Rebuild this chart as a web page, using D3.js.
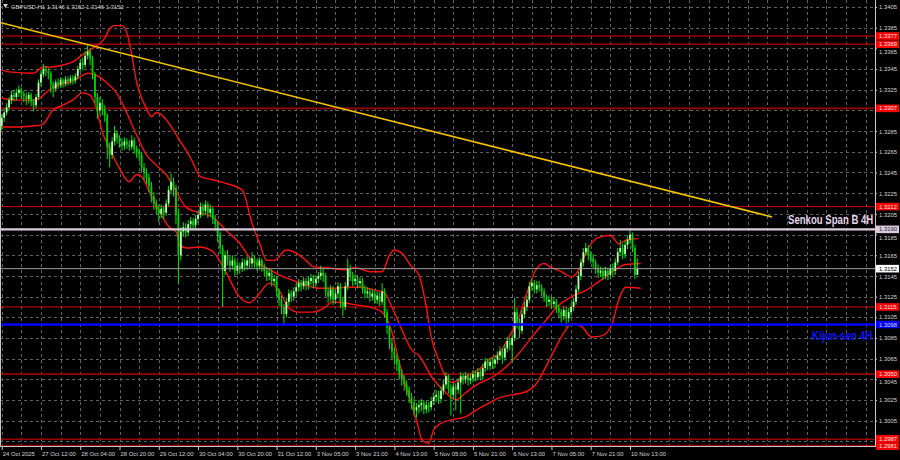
<!DOCTYPE html>
<html><head><meta charset="utf-8">
<script src="https://cdn.jsdelivr.net/npm/d3@7"></script>
<style>html,body{margin:0;padding:0;background:#000;}svg{display:block;}</style>
</head><body><svg id="c" width="900" height="460"></svg>
<script>
// ---------- DATA ----------
const symbolTitle = "GBPUSD,H1  1.3146 1.3162 1.3146 1.3152";
const firstOpen = 1.3290;
const closes = [
1.3298,1.3303,1.3308,1.3315,1.3320,1.3318,1.3322,1.3325,1.3321,1.3319,
1.3316,1.3320,1.3314,1.3310,1.3318,1.3332,1.3340,1.3345,1.3343,1.3341,
1.3330,1.3326,1.3332,1.3330,1.3334,1.3331,1.3335,1.3333,1.3336,1.3334,
1.3338,1.3345,1.3351,1.3349,1.3358,1.3362,1.3355,1.3340,1.3318,1.3305,
1.3312,1.3306,1.3300,1.3270,1.3262,1.3275,1.3283,1.3278,1.3274,1.3271,
1.3275,1.3272,1.3270,1.3276,1.3268,1.3264,1.3262,1.3250,1.3245,1.3240,
1.3232,1.3222,1.3215,1.3210,1.3205,1.3210,1.3206,1.3215,1.3228,1.3236,
1.3230,1.3205,1.3165,1.3188,1.3192,1.3187,1.3195,1.3198,1.3194,1.3200,
1.3204,1.3212,1.3208,1.3214,1.3206,1.3210,1.3200,1.3195,1.3185,1.3172,
1.3150,1.3165,1.3160,1.3155,1.3160,1.3150,1.3155,1.3152,1.3158,1.3155,
1.3160,1.3157,1.3162,1.3158,1.3155,1.3160,1.3154,1.3150,1.3145,1.3148,
1.3140,1.3142,1.3130,1.3122,1.3115,1.3108,1.3120,1.3128,1.3125,1.3130,
1.3134,1.3138,1.3135,1.3140,1.3136,1.3140,1.3143,1.3138,1.3142,1.3145,
1.3148,1.3145,1.3130,1.3125,1.3132,1.3122,1.3128,1.3135,1.3120,1.3115,
1.3135,1.3152,1.3145,1.3140,1.3142,1.3138,1.3140,1.3132,1.3128,1.3130,
1.3125,1.3128,1.3122,1.3126,1.3120,1.3130,1.3110,1.3095,1.3080,1.3072,
1.3065,1.3060,1.3050,1.3045,1.3040,1.3035,1.3028,1.3022,1.3015,1.3018,
1.3020,1.3022,1.3016,1.3020,1.3018,1.3024,1.3028,1.3030,1.3026,1.3034,
1.3040,1.3048,1.3036,1.3030,1.3038,1.3035,1.3042,1.3048,1.3045,1.3048,
1.3044,1.3046,1.3050,1.3047,1.3052,1.3048,1.3056,1.3062,1.3058,1.3062,
1.3060,1.3064,1.3068,1.3072,1.3066,1.3075,1.3082,1.3078,1.3085,1.3110,
1.3100,1.3092,1.3108,1.3115,1.3122,1.3135,1.3138,1.3132,1.3136,1.3134,
1.3130,1.3124,1.3120,1.3122,1.3118,1.3120,1.3114,1.3110,1.3106,1.3112,
1.3104,1.3110,1.3115,1.3120,1.3132,1.3145,1.3158,1.3168,1.3172,1.3165,
1.3162,1.3158,1.3152,1.3148,1.3150,1.3145,1.3150,1.3146,1.3152,1.3150,
1.3158,1.3168,1.3172,1.3166,1.3175,1.3180,1.3185,1.3172,1.3146,1.3152];
const highs = [
1.3301,1.3307,1.3312,1.3318,1.3324,1.3325,1.3326,1.3329,1.3327,1.3324,
1.3322,1.3323,1.3322,1.3316,1.3321,1.3335,1.3344,1.3350,1.3348,1.3346,
1.3343,1.3333,1.3335,1.3336,1.3337,1.3336,1.3338,1.3338,1.3339,1.3339,
1.3341,1.3348,1.3355,1.3356,1.3362,1.3368,1.3365,1.3358,1.3342,1.3322,
1.3318,1.3316,1.3310,1.3302,1.3274,1.3279,1.3290,1.3286,1.3281,1.3278,
1.3279,1.3278,1.3276,1.3281,1.3279,1.3271,1.3268,1.3265,1.3254,1.3249,
1.3244,1.3236,1.3226,1.3219,1.3214,1.3214,1.3213,1.3219,1.3232,1.3244,
1.3240,1.3233,1.3210,1.3192,1.3197,1.3196,1.3199,1.3202,1.3201,1.3204,
1.3208,1.3216,1.3215,1.3218,1.3217,1.3214,1.3212,1.3204,1.3198,1.3188,
1.3175,1.3169,1.3170,1.3164,1.3165,1.3163,1.3159,1.3158,1.3162,1.3161,
1.3164,1.3163,1.3168,1.3165,1.3161,1.3163,1.3162,1.3157,1.3153,1.3152,
1.3151,1.3146,1.3145,1.3133,1.3126,1.3118,1.3124,1.3132,1.3131,1.3134,
1.3138,1.3142,1.3141,1.3144,1.3143,1.3144,1.3147,1.3146,1.3146,1.3149,
1.3155,1.3152,1.3148,1.3134,1.3136,1.3135,1.3132,1.3139,1.3138,1.3124,
1.3139,1.3162,1.3156,1.3149,1.3147,1.3146,1.3144,1.3143,1.3136,1.3134,
1.3133,1.3132,1.3131,1.3130,1.3129,1.3138,1.3133,1.3113,1.3098,1.3084,
1.3076,1.3069,1.3064,1.3055,1.3049,1.3044,1.3038,1.3032,1.3026,1.3022,
1.3025,1.3026,1.3025,1.3024,1.3023,1.3028,1.3032,1.3035,1.3034,1.3038,
1.3045,1.3052,1.3050,1.3040,1.3042,1.3041,1.3046,1.3052,1.3051,1.3052,
1.3051,1.3050,1.3054,1.3053,1.3056,1.3055,1.3060,1.3066,1.3065,1.3066,
1.3066,1.3068,1.3072,1.3077,1.3075,1.3079,1.3086,1.3085,1.3089,1.3124,
1.3114,1.3104,1.3112,1.3120,1.3126,1.3139,1.3142,1.3141,1.3140,1.3140,
1.3137,1.3133,1.3127,1.3126,1.3125,1.3124,1.3123,1.3117,1.3113,1.3116,
1.3115,1.3114,1.3119,1.3124,1.3136,1.3149,1.3162,1.3172,1.3177,1.3175,
1.3169,1.3166,1.3161,1.3156,1.3154,1.3153,1.3154,1.3153,1.3156,1.3157,
1.3162,1.3172,1.3180,1.3176,1.3179,1.3184,1.3189,1.3187,1.3175,1.3162];
const lows = [
1.3286,1.3294,1.3300,1.3305,1.3311,1.3314,1.3315,1.3318,1.3316,1.3313,
1.3310,1.3312,1.3309,1.3304,1.3307,1.3315,1.3328,1.3337,1.3338,1.3335,
1.3322,1.3318,1.3323,1.3326,1.3327,1.3327,1.3328,1.3329,1.3330,1.3330,
1.3331,1.3335,1.3342,1.3344,1.3346,1.3354,1.3349,1.3335,1.3312,1.3297,
1.3301,1.3300,1.3294,1.3258,1.3250,1.3258,1.3271,1.3273,1.3269,1.3266,
1.3267,1.3268,1.3266,1.3267,1.3263,1.3259,1.3256,1.3245,1.3238,1.3234,
1.3226,1.3216,1.3209,1.3204,1.3197,1.3201,1.3200,1.3203,1.3212,1.3224,
1.3222,1.3195,1.3138,1.3160,1.3183,1.3182,1.3184,1.3190,1.3189,1.3190,
1.3196,1.3201,1.3203,1.3204,1.3201,1.3202,1.3195,1.3189,1.3178,1.3166,
1.3115,1.3146,1.3155,1.3149,1.3151,1.3145,1.3146,1.3147,1.3149,1.3150,
1.3151,1.3152,1.3153,1.3153,1.3150,1.3151,1.3149,1.3145,1.3140,1.3141,
1.3135,1.3136,1.3125,1.3116,1.3108,1.3097,1.3105,1.3116,1.3120,1.3121,
1.3126,1.3130,1.3130,1.3132,1.3131,1.3132,1.3136,1.3133,1.3134,1.3138,
1.3141,1.3139,1.3125,1.3119,1.3121,1.3117,1.3118,1.3124,1.3114,1.3106,
1.3112,1.3131,1.3140,1.3135,1.3136,1.3133,1.3134,1.3128,1.3123,1.3124,
1.3120,1.3121,1.3118,1.3118,1.3116,1.3117,1.3105,1.3089,1.3074,1.3065,
1.3059,1.3053,1.3045,1.3039,1.3034,1.3029,1.3022,1.3016,1.3010,1.3008,
1.3012,1.3014,1.3011,1.3012,1.3013,1.3015,1.3020,1.3023,1.3021,1.3022,
1.3030,1.3036,1.3031,1.3010,1.3026,1.3015,1.3031,1.3012,1.3040,1.3041,
1.3039,1.3040,1.3042,1.3043,1.3044,1.3044,1.3045,1.3052,1.3054,1.3054,
1.3055,1.3056,1.3060,1.3064,1.3060,1.3063,1.3071,1.3073,1.3062,1.3082,
1.3094,1.3085,1.3089,1.3104,1.3111,1.3119,1.3131,1.3128,1.3128,1.3130,
1.3125,1.3120,1.3115,1.3116,1.3113,1.3114,1.3109,1.3104,1.3100,1.3102,
1.3095,1.3100,1.3106,1.3111,1.3117,1.3129,1.3141,1.3154,1.3164,1.3160,
1.3157,1.3153,1.3147,1.3143,1.3144,1.3141,1.3142,1.3141,1.3142,1.3145,
1.3146,1.3155,1.3164,1.3161,1.3162,1.3171,1.3176,1.3168,1.3142,1.3146];

// Bollinger-style bands (bar index, price)
const upIdx = [0,4,13,17,21,25,29,33,37,40,42,44,46,49,51,53,55,57,59,61,63,65,68,72,77,81,86,92,98,102,105,108,111,116,120,124,127,132,140,144,150,155,158,160,163,167,170,173,175,178,181,183.5,187.5,191.6,195.7,198.5,202.6,206.7,210.7,214.8,217.7,220.9,224,228.2,232.3,235.2,238,240.5,244.2,248.2,251.4,254.7,259.4];
const upVal = [1.3344,1.3342,1.3341,1.3347,1.3347,1.3349,1.3352,1.3359,1.3365,1.3370,1.3375,1.3384,1.3387,1.3387,1.3380,1.3359,1.3332,1.3317,1.3307,1.3299,1.3303,1.3301,1.3293,1.3278,1.3259,1.3241,1.3238,1.3234,1.3228,1.3196,1.3177,1.3160,1.3160,1.3170,1.3167,1.3160,1.3154,1.3153,1.3151,1.3153,1.3149,1.3149,1.3165,1.3170,1.3167,1.3154,1.3146,1.3115,1.3086,1.3064,1.3047,1.3042,1.3046,1.3051,1.3057,1.3064,1.3070,1.3086,1.3105,1.3134,1.3151,1.3157,1.3153,1.3149,1.3144,1.3151,1.3167,1.3177,1.3183,1.3184,1.3176,1.3180,1.3181];
const midIdx = [0,6,13,15.5,19.5,23.6,27.7,31.7,35,38.6,42.7,46.8,50.9,55,59,63,67,71.2,75.3,80.6,85.8,91.5,96.8,102,107.8,113,118.4,124,129.4,134.7,140.4,145.6,152.6,155.8,159,163,167.2,170,175.3,181,185,189,194.5,199.8,205.5,210.7,216,221.7,225.8,232.3,238,243,248.6,254.3,260.4];
const midVal = [1.3317,1.3315,1.3315,1.3317,1.3325,1.3330,1.3332,1.3337,1.3341,1.3339,1.3332,1.3322,1.3303,1.3281,1.3262,1.3252,1.3243,1.3226,1.3211,1.3206,1.3202,1.3189,1.3177,1.3160,1.3153,1.3146,1.3141,1.3136,1.3133,1.3133,1.3134,1.3134,1.3131,1.3129,1.3115,1.3093,1.3073,1.3068,1.3047,1.3032,1.3025,1.3032,1.3041,1.3047,1.3057,1.3070,1.3086,1.3102,1.3114,1.3125,1.3131,1.3139,1.3149,1.3156,1.3157];
const lowIdx = [0,6,12.6,16.3,18.3,20.7,24.8,28.9,33,35.8,38.6,41,43.9,48,52,55,57.4,60.2,64.3,68.3,71.2,72.4,75.3,80.6,85.8,91.5,96.8,101,105,109,113,117,121,126.5,132,134.7,138.7,144.4,149.7,155,158.7,162,166,169.3,171.3,174,176,179.4,183.5,189.2,193.2,198.5,202.6,207.9,213.6,217.6,221.7,225.8,229.9,232.3,236.3,240.4,244.5,248.6,251.4,254.3,260.4];
const lowVal = [1.3289,1.3289,1.3290,1.3291,1.3296,1.3305,1.3310,1.3315,1.3322,1.3320,1.3307,1.3284,1.3269,1.3249,1.3236,1.3243,1.3240,1.3226,1.3207,1.3192,1.3187,1.3175,1.3172,1.3173,1.3169,1.3148,1.3125,1.3119,1.3128,1.3138,1.3131,1.3114,1.3110,1.3110,1.3115,1.3120,1.3119,1.3117,1.3115,1.3110,1.3093,1.3061,1.3028,1.3003,1.2986,1.2983,1.2996,1.3003,1.3006,1.3009,1.3015,1.3022,1.3027,1.3030,1.3033,1.3040,1.3057,1.3076,1.3093,1.3099,1.3096,1.3086,1.3087,1.3098,1.3122,1.3134,1.3133];

const trendBars = [-0.7, 313.9];
const trendPrices = [1.3390, 1.3202];

const levelPrices = [1.3377, 1.3369, 1.3307, 1.3212, 1.3115, 1.3050, 1.2987, 1.2981];
const levelThin   = [false, false, false, true, true, false, false, false];
const senkouB = 1.3190;
const kijun = 1.3098;
const lastPrice = 1.3152;

const priceTicks = [1.3405,1.3385,1.3365,1.3345,1.3325,1.3305,1.3285,1.3265,1.3245,1.3225,1.3205,1.3185,1.3165,1.3145,1.3125,1.3105,1.3085,1.3065,1.3045,1.3025,1.3005,1.2985];
const timeLabels = ["24 Oct 2025","27 Oct 12:00","28 Oct 04:00","28 Oct 20:00","29 Oct 12:00","30 Oct 04:00","30 Oct 20:00","31 Oct 12:00","3 Nov 05:00","3 Nov 21:00","4 Nov 13:00","5 Nov 05:00","5 Nov 21:00","6 Nov 13:00","7 Nov 05:00","7 Nov 21:00","10 Nov 13:00"];
const timeLabelBars = [0,16,32,48,64,80,96,112,128,144,160,176,192,208,224,240,256];
const gridBars = [0,8,16,24,32,40,48,56,64,72,80,88,96,104,112,120,128,136,144,152,160,168,176,184,192,200,208,216,224,232,240,248,256,264,272,280,288,296,304,312,320,328,336,344,352];

// ---------- DRAW ----------
const W = 900, H = 460, plotR = 875, plotB = 446;
const svg = d3.select('#c');
const x = d3.scaleLinear().domain([0, 256]).range([1.7, 630]);
const y = d3.scaleLinear().domain([1.3005, 1.3405]).range([420.7, 7]);
const font = "'Liberation Sans', Arial, sans-serif";
const fs = 5.9;

svg.append('rect').attr('width', W).attr('height', H).attr('fill', '#000');
svg.append('clipPath').attr('id', 'pc').append('rect')
  .attr('x', 0).attr('y', 0).attr('width', plotR).attr('height', plotB);
const g = svg.append('g').attr('clip-path', 'url(#pc)');

// grid
g.selectAll('.hg').data(priceTicks).join('line').attr('class', 'hg')
  .attr('x1', 0).attr('x2', plotR)
  .attr('y1', d => Math.round(y(d)) + 0.5).attr('y2', d => Math.round(y(d)) + 0.5)
  .attr('stroke', '#606060').attr('stroke-width', 1).attr('stroke-dasharray', '3,3');
g.selectAll('.vg').data(gridBars).join('line').attr('class', 'vg')
  .attr('x1', d => Math.round(x(d)) + 0.5).attr('x2', d => Math.round(x(d)) + 0.5)
  .attr('y1', 0).attr('y2', plotB)
  .attr('stroke', '#606060').attr('stroke-width', 1).attr('stroke-dasharray', '3,3');

// level lines
g.selectAll('.lv').data(levelPrices).join('line').attr('class', 'lv')
  .attr('x1', 0).attr('x2', plotR)
  .attr('y1', d => y(d)).attr('y2', d => y(d))
  .attr('stroke', (d, i) => levelThin[i] ? '#d80000' : '#9a0000')
  .attr('stroke-width', (d, i) => levelThin[i] ? 1 : 1.6);

// bands
const bandLine = d3.line().x(d => x(d[0])).y(d => y(d[1])).curve(d3.curveMonotoneX);
[[upIdx, upVal], [midIdx, midVal], [lowIdx, lowVal]].forEach(([ix, vv]) => {
  g.append('path').datum(ix.map((v, i) => [v, vv[i]]))
    .attr('d', bandLine).attr('fill', 'none')
    .attr('stroke', '#ff1010').attr('stroke-width', 1.4);
});

// candles
const bars = closes.map((c, i) => ({
  i, o: i === 0 ? firstOpen : closes[i - 1], c, h: highs[i], l: lows[i]
}));
const cg = g.append('g');
cg.selectAll('.wk').data(bars).join('line').attr('class', 'wk')
  .attr('x1', d => x(d.i)).attr('x2', d => x(d.i))
  .attr('y1', d => y(d.h)).attr('y2', d => y(d.l))
  .attr('stroke', '#00e600').attr('stroke-width', 1);
cg.selectAll('.bd').data(bars).join('rect').attr('class', 'bd')
  .attr('x', d => x(d.i) - 0.9).attr('width', 1.8)
  .attr('y', d => y(Math.max(d.o, d.c)))
  .attr('height', d => Math.max(0.8, Math.abs(y(d.o) - y(d.c))))
  .attr('fill', d => d.c >= d.o ? '#b8ffb0' : '#00d000');

// trend line
g.append('line')
  .attr('x1', x(trendBars[0])).attr('y1', y(trendPrices[0]))
  .attr('x2', x(trendBars[1])).attr('y2', y(trendPrices[1]))
  .attr('stroke', '#f5c400').attr('stroke-width', 1.6);

// ichimoku / price lines
g.append('line').attr('x1', 0).attr('x2', plotR).attr('y1', y(lastPrice)).attr('y2', y(lastPrice))
  .attr('stroke', '#a0a0a0').attr('stroke-width', 1);
g.append('line').attr('x1', 0).attr('x2', plotR).attr('y1', y(senkouB)).attr('y2', y(senkouB))
  .attr('stroke', '#dccbdc').attr('stroke-width', 2.2);
g.append('line').attr('x1', 0).attr('x2', plotR).attr('y1', y(kijun)).attr('y2', y(kijun))
  .attr('stroke', '#0000ff').attr('stroke-width', 2.6);

// text labels for lines (narrow, tall look: small font stretched vertically)
svg.append('g').attr('transform', `translate(788,${y(senkouB) - 5}) scale(1,1.3)`)
  .append('text').attr('x', 0).attr('y', 0)
  .attr('font-family', font).attr('font-weight', 'bold').attr('font-size', 9.6).attr('fill', '#e4d6ea')
  .text('Senkou Span B 4H');
svg.append('g').attr('transform', `translate(812,${y(kijun) + 15}) scale(1,1.3)`)
  .append('text').attr('x', 0).attr('y', 0)
  .attr('font-family', font).attr('font-weight', 'bold').attr('font-size', 9.9).attr('fill', '#0a14ff')
  .text('Kijun-sen 4H');

// frame
svg.append('line').attr('x1', plotR + 0.5).attr('x2', plotR + 0.5).attr('y1', 0).attr('y2', plotB + 1)
  .attr('stroke', '#c8c8c8').attr('stroke-width', 1);
svg.append('line').attr('x1', 0).attr('x2', plotR + 1).attr('y1', plotB + 0.5).attr('y2', plotB + 0.5)
  .attr('stroke', '#c8c8c8').attr('stroke-width', 1);
svg.append('line').attr('x1', 0.5).attr('x2', 0.5).attr('y1', 0).attr('y2', plotB)
  .attr('stroke', '#c8c8c8').attr('stroke-width', 1);

// highlighted price boxes (positions), with small nudges so texts do not collide
const boxes = levelPrices.map(p => ({p, bg: '#ff0000', fg: '#ffe8e8'}))
  .concat([{p: senkouB, bg: '#dccbe0', fg: '#222'}, {p: lastPrice, bg: '#ffffff', fg: '#000'}, {p: kijun, bg: '#0000ff', fg: '#d8d8ff'}]);
boxes.forEach(b => b.yy = y(b.p));
boxes.sort((a, b) => a.yy - b.yy);
for (let k = 1; k < boxes.length; k++) {
  const gap = boxes[k].yy - boxes[k - 1].yy;
  if (gap < 7.4) { const s = (7.4 - gap) / 2; boxes[k - 1].yy -= s; boxes[k].yy += s; }
}

// right axis
const ra = svg.append('g').attr('transform', `translate(${plotR},0)`)
  .call(d3.axisRight(y).tickValues(priceTicks).tickFormat(d3.format('.4f')).tickSize(2).tickPadding(2));
ra.select('.domain').remove();
ra.selectAll('line').attr('stroke', '#c8c8c8');
ra.selectAll('text').attr('font-family', font).attr('font-size', fs).attr('fill', '#d4d4d4');
ra.selectAll('.tick').each(function(d) {
  const ty = y(d);
  let near = null;
  boxes.forEach(b => { if (Math.abs(b.yy - ty) < 7.8 && (!near || Math.abs(b.yy - ty) < Math.abs(near.yy - ty))) near = b; });
  const t = d3.select(this).select('text');
  if (!near) return;
  const diff = ty - near.yy;
  if (Math.abs(diff) < 3.5) { t.attr('opacity', 0).text(''); return; }   // hidden behind a box
  const target = near.yy + Math.sign(diff) * 7.8;
  t.attr('y', target - ty);
});

const bx = svg.append('g').selectAll('g').data(boxes).join('g')
  .attr('transform', d => `translate(876,${d.yy})`);
bx.append('rect').attr('x', 0).attr('y', -3.8).attr('width', 23).attr('height', 7.6).attr('fill', d => d.bg);
bx.append('text').attr('x', 3).attr('y', 2.1).attr('font-family', font).attr('font-size', fs)
  .attr('fill', d => d.fg).text(d => d3.format('.4f')(d.p));

// bottom axis
const ba = svg.append('g').attr('transform', `translate(0,${plotB})`)
  .call(d3.axisBottom(x).tickValues(timeLabelBars).tickFormat((d, i) => timeLabels[i]).tickSize(4).tickPadding(2));
ba.select('.domain').remove();
ba.selectAll('line').attr('stroke', '#c8c8c8');
ba.selectAll('text').attr('font-family', font).attr('font-size', fs).attr('fill', '#d4d4d4')
  .attr('text-anchor', 'start').attr('dx', '0.5');

// title
svg.append('path').attr('d', 'M3,4 L8,4 L5.5,8 Z').attr('fill', '#d0d0d0');
svg.append('text').attr('x', 11).attr('y', 8.5).attr('font-family', font).attr('font-size', fs)
  .attr('fill', '#d4d4d4').text(symbolTitle);
</script>
</body></html>
